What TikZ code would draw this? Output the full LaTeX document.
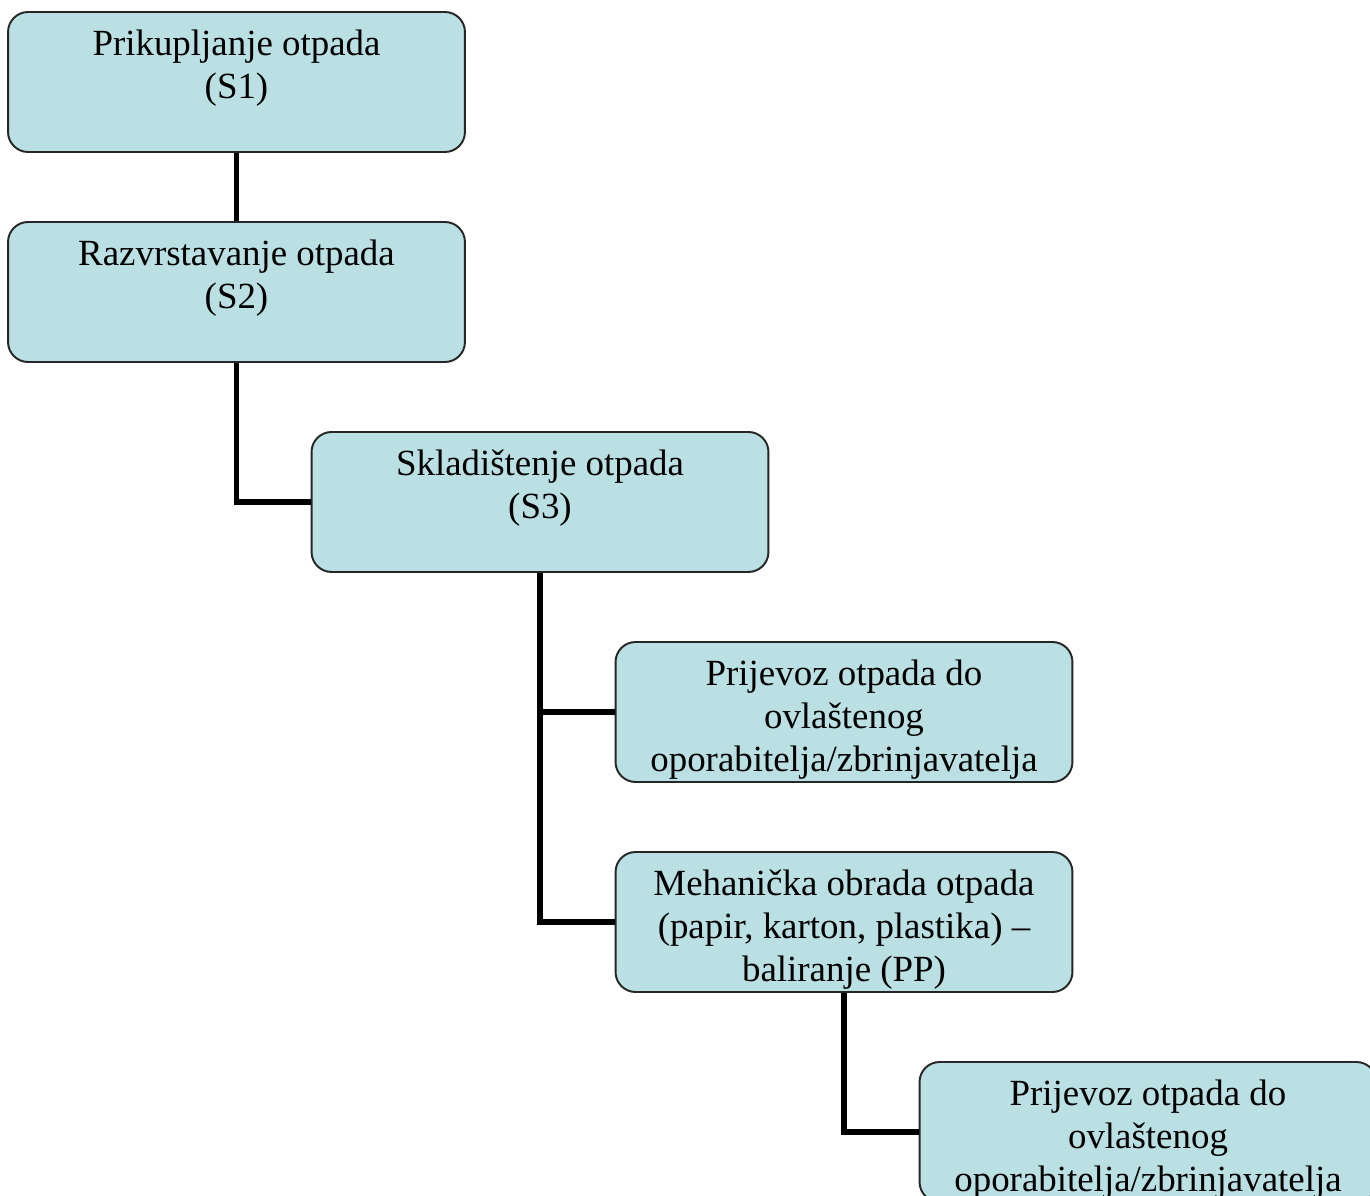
\documentclass[tikz,border=0pt]{standalone}
\usepackage{fontspec}
\setmainfont{Liberation Serif}
\definecolor{boxfill}{HTML}{BBE0E3}

\tikzset{
	stage/.style={rectangle, rounded corners=0.4cm, draw=black!85, line width=1.1pt, fill=boxfill,
		inner sep=0pt, minimum width=9.14cm, minimum height=2.8cm,
		font=\fontsize{21}{24.5}\selectfont,
		execute at begin node={\begin{minipage}[c][2.8cm][t]{9.14cm}\centering\rule{0pt}{0.86cm}},
		execute at end node={\end{minipage}}},
	link/.style={line width=3.2pt}
}

\begin{document}
\begin{tikzpicture}[x=0.02cm, y=-0.02cm]
	\useasboundingbox (0,0) rectangle (1370,1196);
	\clip (0,0) rectangle (1370,1196);

	\node 	(s1)	at	(236.5,82) 	[stage]{Prikupljanje otpada\\(S1)};
	\node 	(s2)	at	(236.5,292) 	[stage]{Razvrstavanje otpada\\(S2)};
	\node 	(s3)	at	(540,502) 	[stage]{Skladištenje otpada\\(S3)};

	\node 	(p1)	at	(844,712) 	[stage]{Prijevoz otpada do\\ovlaštenog\\oporabitelja/zbrinjavatelja};
	\node 	(mo)	at	(844,922) 	[stage]{Mehanička obrada otpada\\(papir, karton, plastika) --\\baliranje (PP)};

	\node 	(p2)	at	(1148,1132) 	[stage]{Prijevoz otpada do\\ovlaštenog\\oporabitelja/zbrinjavatelja};

	\draw[link]	(s1.south)	--	(s2.north);
	\draw[link]	(s2.south)	|-	(s3.west);

	\draw[link]	(s3.south)	|-	(p1.west);
	\draw[link]	(s3.south)	|-	(mo.west);

	\draw[link]	(mo.south)	|-	(p2.west);

\end{tikzpicture}
\end{document}
